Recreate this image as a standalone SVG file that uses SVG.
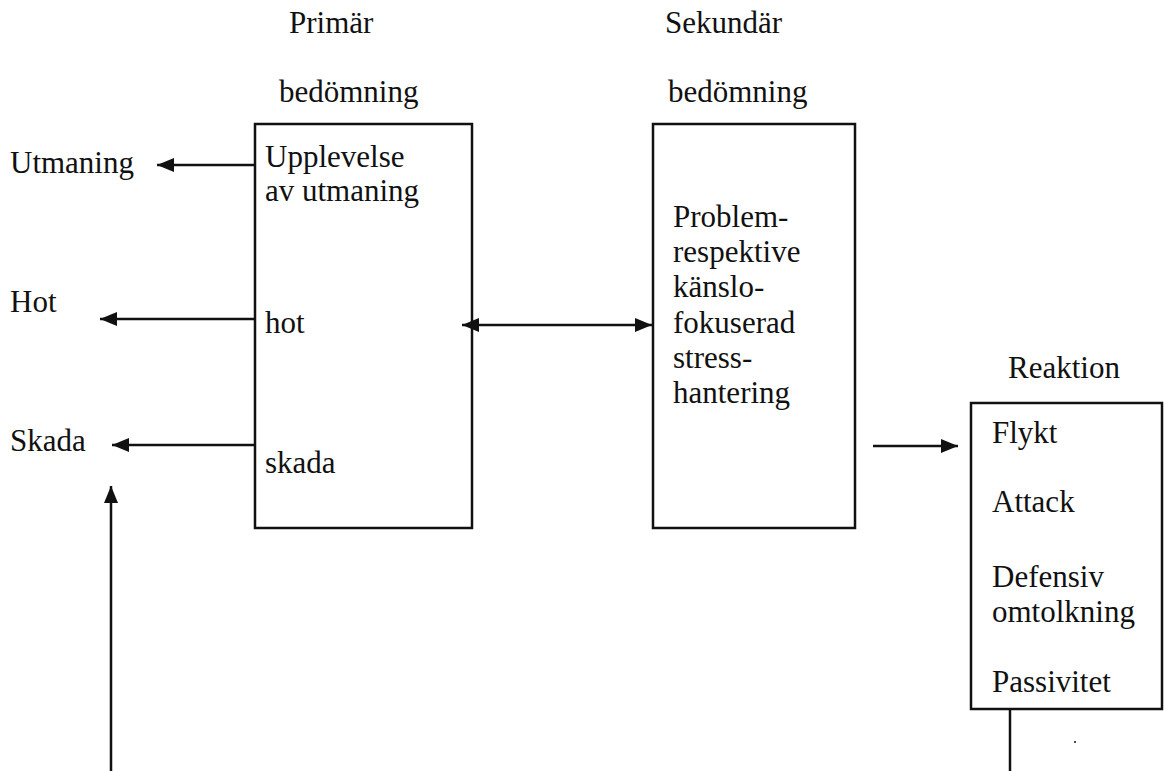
<svg xmlns="http://www.w3.org/2000/svg" width="1164" height="771" viewBox="0 0 1164 771">
  <style>
    text { font-family: "Liberation Serif", "Times New Roman", serif; font-size: 31px; fill: #111; }
    .box { fill: none; stroke: #111; stroke-width: 2.5; }
    .line { fill: none; stroke: #111; stroke-width: 2.5; }
  </style>
  <defs>
    <marker id="head" markerUnits="userSpaceOnUse" markerWidth="18" markerHeight="14" refX="17" refY="7" orient="auto-start-reverse">
      <path d="M0,0 L17,7 L0,14 Z" fill="#111"/>
    </marker>
  </defs>
  <rect width="1164" height="771" fill="#fff"/>

  <!-- column headings -->
  <g id="heading-primary">
    <text x="289" y="33">Primär</text>
    <text x="279" y="102">bedömning</text>
  </g>
  <g id="heading-secondary">
    <text x="665" y="33">Sekundär</text>
    <text x="668" y="102">bedömning</text>
  </g>

  <!-- primary appraisal box -->
  <g id="primary-box">
    <rect class="box" x="255" y="124" width="217" height="404"/>
    <text x="265" y="167">Upplevelse</text>
    <text x="265" y="201">av utmaning</text>
    <text x="265" y="333">hot</text>
    <text x="265" y="473">skada</text>
  </g>

  <!-- secondary appraisal box -->
  <g id="secondary-box">
    <rect class="box" x="653" y="124" width="202" height="404"/>
    <text x="673" y="227">Problem-</text>
    <text x="673" y="262">respektive</text>
    <text x="673" y="297">känslo-</text>
    <text x="673" y="333">fokuserad</text>
    <text x="673" y="368">stress-</text>
    <text x="673" y="403">hantering</text>
  </g>

  <!-- outcome labels -->
  <g id="label-utmaning"><text x="10" y="173">Utmaning</text></g>
  <g id="label-hot"><text x="10" y="312">Hot</text></g>
  <g id="label-skada"><text x="10" y="451">Skada</text></g>

  <!-- reaction box -->
  <g id="reaction-box">
    <text x="1008" y="378">Reaktion</text>
    <rect class="box" x="971" y="403" width="191" height="306"/>
    <text x="992" y="443">Flykt</text>
    <text x="992" y="512">Attack</text>
    <text x="992" y="587">Defensiv</text>
    <text x="992" y="622">omtolkning</text>
    <text x="992" y="692">Passivitet</text>
  </g>

  <!-- connectors -->
  <g id="connectors">
    <line class="line" x1="255" y1="165" x2="157" y2="165" marker-end="url(#head)"/>
    <line class="line" x1="255" y1="319" x2="100" y2="319" marker-end="url(#head)"/>
    <line class="line" x1="255" y1="445" x2="112" y2="445" marker-end="url(#head)"/>
    <line class="line" x1="462" y1="325" x2="652" y2="325" marker-start="url(#head)" marker-end="url(#head)"/>
    <line class="line" x1="873" y1="446" x2="958" y2="446" marker-end="url(#head)"/>
    <line class="line" x1="111" y1="771" x2="111" y2="486" marker-end="url(#head)"/>
    <line class="line" x1="1010" y1="709" x2="1010" y2="771"/>
    <circle cx="1075" cy="742" r="1" fill="#111"/>
  </g>
</svg>
